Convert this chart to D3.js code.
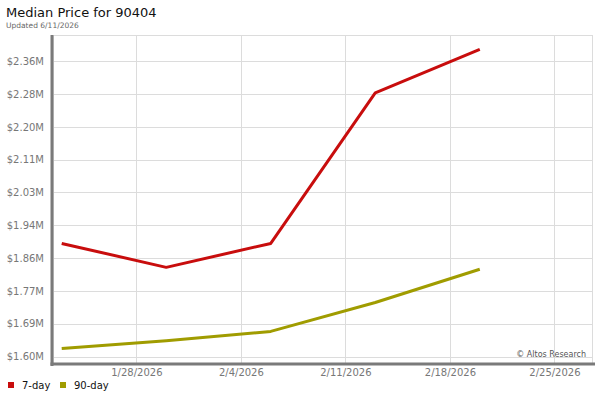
<!DOCTYPE html>
<html>
<head>
<meta charset="utf-8">
<title>Median Price for 90404</title>
<script src="https://cdn.jsdelivr.net/npm/d3@7/dist/d3.min.js"></script>
<style>
  body { margin: 0; background: #fff; }
  svg { font-family: "DejaVu Sans", sans-serif; }
</style>
</head>
<body>
<svg id="chart"></svg>
<script>
// weekly dates and median prices ($M)
var dates = ['2026-01-23', '2026-01-30', '2026-02-06', '2026-02-13', '2026-02-20'];
var sevenDay = [1.893, 1.831, 1.893, 2.283, 2.396];
var ninetyDay = [1.621, 1.641, 1.665, 1.740, 1.826];

var xTicks = ['2026-01-28', '2026-02-04', '2026-02-11', '2026-02-18', '2026-02-25'];
var yTicks = [1.600, 1.685, 1.770, 1.855, 1.940, 2.025, 2.110, 2.195, 2.280, 2.365];
var yLabels = ['$1.60M', '$1.69M', '$1.77M', '$1.86M', '$1.94M', '$2.03M', '$2.11M', '$2.20M', '$2.28M', '$2.36M'];

var series = [
  { name: '7-day', values: sevenDay, color: '#c80d0d' },
  { name: '90-day', values: ninetyDay, color: '#a09c00' }
];

var parse = d3.utcParse('%Y-%m-%d');
var fmt = d3.utcFormat('%-m/%-d/%Y');

var W = 600, H = 400;
var margin = { top: 35, right: 7, bottom: 36, left: 53 };
var width = W - margin.left - margin.right,
    height = H - margin.top - margin.bottom;

var svg = d3.select('#chart').attr('width', W).attr('height', H);

svg.append('text').attr('x', 6).attr('y', 17)
  .style('font-size', '13px').style('fill', '#111')
  .text('Median Price for 90404');
svg.append('text').attr('x', 6).attr('y', 28)
  .style('font-size', '7.5px').style('fill', '#666')
  .text('Updated 6/11/2026');

var g = svg.append('g')
  .attr('transform', 'translate(' + margin.left + ',' + margin.top + ')');

var x = d3.scaleUtc()
  .domain([new Date(Date.UTC(2026, 0, 22, 10)), new Date(Date.UTC(2026, 1, 27, 14))])
  .range([0, width]);

var y = d3.scaleLinear()
  .domain([1.5806, 2.433])
  .range([height, 0]);

// grid
g.append('g').selectAll('line').data(yTicks).enter().append('line')
  .attr('x1', 0).attr('x2', width)
  .attr('y1', d => Math.round(y(d)) + 0.5).attr('y2', d => Math.round(y(d)) + 0.5)
  .style('stroke', '#dcdcdc');
g.append('g').selectAll('line').data(xTicks).enter().append('line')
  .attr('x1', d => Math.round(x(parse(d))) + 0.5).attr('x2', d => Math.round(x(parse(d))) + 0.5)
  .attr('y1', 0).attr('y2', height)
  .style('stroke', '#dcdcdc');
g.append('rect').attr('x', 0.5).attr('y', 0.5)
  .attr('width', width - 1).attr('height', height)
  .style('fill', 'none').style('stroke', '#dcdcdc');

// axes
var yAxis = d3.axisLeft(y).tickValues(yTicks).tickSize(0).tickPadding(9)
  .tickFormat((d, i) => yLabels[i]);
var xAxis = d3.axisBottom(x).tickValues(xTicks.map(parse)).tickSize(0).tickPadding(5)
  .tickFormat(fmt);

var ya = g.append('g').call(yAxis);
var xa = g.append('g').attr('transform', 'translate(0,' + height + ')').call(xAxis);
[ya, xa].forEach(a => {
  a.select('.domain').remove();
  a.selectAll('text').style('font-size', '10px').style('fill', '#777')
    .style('font-family', '"DejaVu Sans", sans-serif');
});

g.append('line').attr('x1', -1).attr('x2', -1).attr('y1', 0).attr('y2', height + 2)
  .style('stroke', '#7a7a7a').style('stroke-width', 3);
g.append('line').attr('x1', -2.5).attr('x2', width + 2).attr('y1', height).attr('y2', height)
  .style('stroke', '#7a7a7a').style('stroke-width', 3);

// lines
var line = d3.line()
  .x((d, i) => x(parse(dates[i])))
  .y(d => y(d));

g.selectAll('.series').data(series).enter().append('path')
  .attr('d', d => line(d.values))
  .style('fill', 'none')
  .style('stroke', d => d.color)
  .style('stroke-width', 3)
  .style('stroke-linejoin', 'round');

g.append('text').attr('x', width - 7).attr('y', height - 7)
  .attr('text-anchor', 'end')
  .style('font-size', '8px').style('fill', '#555')
  .text('\u00a9 Altos Research');

// legend
var leg = svg.append('g').attr('transform', 'translate(8,' + (H - 18) + ')');
var items = leg.selectAll('g').data(series).enter().append('g')
  .attr('transform', (d, i) => 'translate(' + (i * 52) + ',0)');
items.append('rect').attr('width', 6).attr('height', 6).style('fill', d => d.color);
items.append('text').attr('x', 14).attr('y', 7)
  .style('font-size', '10px').style('fill', '#111')
  .text(d => d.name);
</script>
</body>
</html>
